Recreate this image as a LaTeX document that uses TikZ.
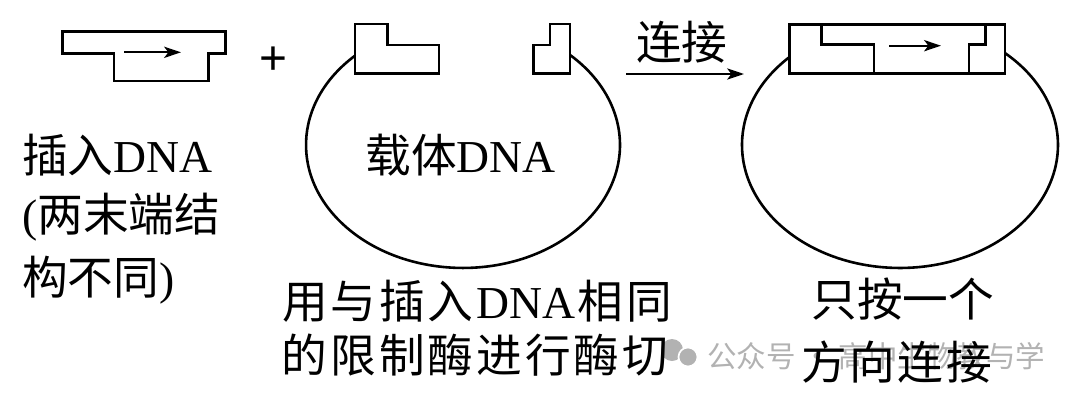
\documentclass[tikz,border=0pt]{standalone}
\usepackage{fontspec}
\setmainfont{Liberation Serif}
\newfontfamily\cjk{Noto Sans CJK SC}
\newfontfamily\sansplus{Liberation Sans}
\usetikzlibrary{arrows.meta}
\definecolor{wmgray}{RGB}{178,178,178}
\begin{document}
\begin{tikzpicture}[x=0.025cm,y=0.025cm,
  shp/.style={line width=1.85pt, line join=miter},
  arr/.style={line width=1.4pt, -{Stealth[length=12pt,width=8pt,inset=3pt]}},
  lbl/.style={font=\fontsize{32.5pt}{39pt}\selectfont, inner sep=0pt},
  wm/.style={font=\cjk\fontsize{21pt}{25pt}\selectfont, text=wmgray, inner sep=0pt}]
\useasboundingbox (0,0) rectangle (1080,-402);

% watermark (behind)
\fill[wmgray] (672,-350) circle[radius=11];
\fill[wmgray, draw=white, line width=1.2pt] (688,-357) circle[radius=9.5];
\node[wm, anchor=west] (wmark) at (707,-356) {公众号 · 高中生物教与学};

% insert DNA
\draw[shp] (62.7,-31.7) -- (225.7,-31.7) -- (225.7,-53.3) -- (208.3,-53.3)
  -- (208.3,-81) -- (114,-81) -- (114,-53.3) -- (62.7,-53.3) -- cycle;
\coordinate (ia) at (124,-52.3);
\coordinate (ib) at (181,-52.3);
\draw[arr] (ia) -- (ib);

% plus sign
\node[font=\sansplus\fontsize{34pt}{38pt}\selectfont, inner sep=0pt] (plus) at (273.7,-61) {+};

% vector DNA: cut ends
\draw[shp] (355,-24) -- (387.7,-24) -- (387.7,-45) -- (439,-45) -- (439,-73.3)
  -- (355,-73.3) -- cycle;
\draw[shp] (533.3,-45) -- (550,-45) -- (550,-24) -- (570,-24) -- (570,-73.3)
  -- (533.3,-73.3) -- cycle;
\draw[shp] (355,-55.7) arc[start angle=133.47, end angle=407.04, x radius=157, y radius=123];

% ligation arrow
\coordinate (la) at (626,-74);
\coordinate (lb) at (744,-74);
\draw[arr] (la) -- (lb);
\node[lbl, font=\cjk\fontsize{32.5pt}{39pt}\selectfont] (lig) at (681.7,-42.5) {连接};

% recombinant DNA
\draw[shp] (789.3,-24.3) rectangle (1005,-73.3);
\draw[shp] (821.7,-24.3) -- (821.7,-44.3) -- (874,-44.3) -- (874,-73.3);
\draw[shp] (985.7,-24.3) -- (985.7,-44.3) -- (969,-44.3) -- (969,-73.3);
\coordinate (ra) at (889,-45.7);
\coordinate (rb) at (941,-45.7);
\draw[arr] (ra) -- (rb);
\draw[shp] (789.3,-57.2) arc[start angle=134.47, end angle=408.35, x radius=158, y radius=123];

% labels
\node[lbl, anchor=west] (ins1) at (22,-155) {{\cjk 插入}DNA};
\node[lbl, anchor=west] (ins2) at (22,-217) {({\cjk 两末端结}};
\node[lbl, anchor=west] (ins3) at (22,-280) {{\cjk 构不同})};

\node[lbl] (vec) at (460.8,-155) {{\cjk 载体}DNA};

\node[lbl] (cut1) at (477.2,-300.8) {\hbox to 9.725cm{\cjk 用\hfil 与\hfil 插\hfil 入\hfil{\rmfamily DNA}\hfil 相\hfil 同}};
\node[lbl] (cut2) at (475,-355) {\hbox to 9.65cm{\cjk 的\hfil 限\hfil 制\hfil 酶\hfil 进\hfil 行\hfil 酶\hfil 切}};

\node[lbl] (dir1) at (902,-299) {\hbox to 4.53cm{\cjk 只\hfil 按\hfil 一\hfil 个}};
\node[lbl] (dir2) at (896.7,-362) {\hbox to 4.75cm{\cjk 方\hfil 向\hfil 连\hfil 接}};
\end{tikzpicture}
\end{document}
